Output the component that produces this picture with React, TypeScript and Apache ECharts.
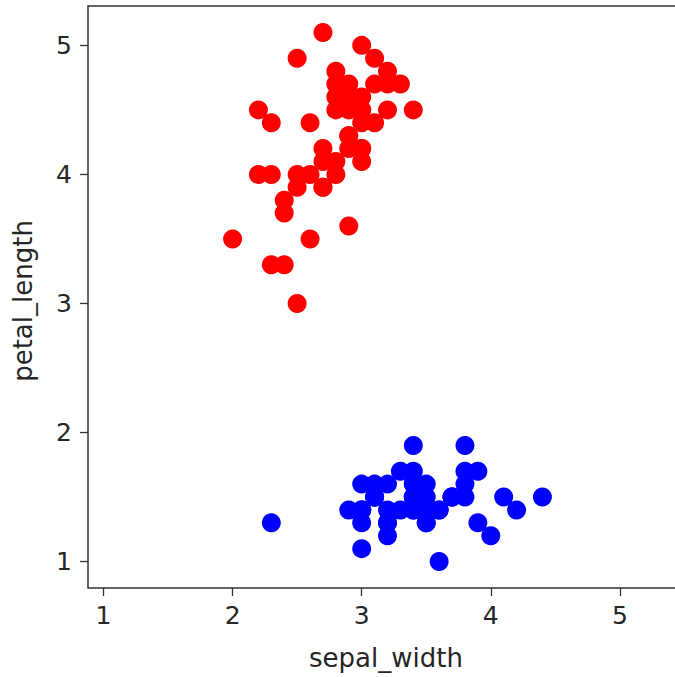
import React, { useEffect, useRef } from "react";
import * as echarts from "echarts";

// iris: setosa (blue) and versicolor (red) — [sepal_width, petal_length]
const setosaSepalWidth = [3.5, 3.0, 3.2, 3.1, 3.6, 3.9, 3.4, 3.4, 2.9, 3.1, 3.7, 3.4, 3.0, 3.0, 4.0, 4.4, 3.9, 3.5, 3.8, 3.8, 3.4, 3.7, 3.6, 3.3, 3.4, 3.0, 3.4, 3.5, 3.4, 3.2, 3.1, 3.4, 4.1, 4.2, 3.1, 3.2, 3.5, 3.6, 3.0, 3.4, 3.5, 2.3, 3.2, 3.5, 3.8, 3.0, 3.8, 3.2, 3.7, 3.3];
const setosaPetalLength = [1.4, 1.4, 1.3, 1.5, 1.4, 1.7, 1.4, 1.5, 1.4, 1.5, 1.5, 1.6, 1.4, 1.1, 1.2, 1.5, 1.3, 1.4, 1.7, 1.5, 1.7, 1.5, 1.0, 1.7, 1.9, 1.6, 1.6, 1.5, 1.4, 1.6, 1.6, 1.5, 1.5, 1.4, 1.5, 1.2, 1.3, 1.4, 1.3, 1.5, 1.3, 1.3, 1.3, 1.6, 1.9, 1.4, 1.6, 1.4, 1.5, 1.4];
const versicolorSepalWidth = [3.2, 3.2, 3.1, 2.3, 2.8, 2.8, 3.3, 2.4, 2.9, 2.7, 2.0, 3.0, 2.2, 2.9, 2.9, 3.1, 3.0, 2.7, 2.2, 2.5, 3.2, 2.8, 2.5, 2.8, 2.9, 3.0, 2.8, 3.0, 2.9, 2.6, 2.4, 2.4, 2.7, 2.7, 3.0, 3.4, 3.1, 2.3, 3.0, 2.5, 2.6, 3.0, 2.6, 2.3, 2.7, 3.0, 2.9, 2.9, 2.5, 2.8];
const versicolorPetalLength = [4.7, 4.5, 4.9, 4.0, 4.6, 4.5, 4.7, 3.3, 4.6, 3.9, 3.5, 4.2, 4.0, 4.7, 3.6, 4.4, 4.5, 4.1, 4.5, 3.9, 4.8, 4.0, 4.9, 4.7, 4.3, 4.4, 4.8, 5.0, 4.5, 3.5, 3.8, 3.7, 3.9, 5.1, 4.5, 4.5, 4.7, 4.4, 4.1, 4.0, 4.4, 4.6, 4.0, 3.3, 4.2, 4.2, 4.2, 4.3, 3.0, 4.1];

const xTicks = [1, 2, 3, 4, 5];
const yTicks = [1, 2, 3, 4, 5];
const xLabel = "sepal_width";
const yLabel = "petal_length";

const FONT = "DejaVu Sans";
const TEXT = "#262626";
const LINE = "#333333";

export default function App() {
  const ref = useRef<HTMLDivElement>(null);
  useEffect(() => {
    if (!ref.current) return;
    const chart = echarts.init(ref.current, undefined, { renderer: "svg" });
    const setosa = setosaSepalWidth.map((x, i) => [x, setosaPetalLength[i]]);
    const versicolor = versicolorSepalWidth.map((x, i) => [x, versicolorPetalLength[i]]);
    chart.setOption({
      animation: false,
      backgroundColor: "#ffffff",
      grid: {
        left: 88,
        top: 6,
        right: 1,
        bottom: 89,
        show: true,
        borderColor: LINE,
        borderWidth: 1.5,
        backgroundColor: "transparent",
      },
      xAxis: {
        type: "value",
        min: 0.88,
        max: 5.52,
        splitLine: { show: false },
        axisLine: { show: false },
        axisTick: { show: true, inside: false, length: 8, lineStyle: { color: LINE, width: 1.3 }, customValues: xTicks },
        axisLabel: {
          show: true,
          color: TEXT,
          fontFamily: FONT,
          fontSize: 25,
          margin: 15,
          customValues: xTicks,
          formatter: (v: number) => String(v),
        },
      },
      yAxis: {
        type: "value",
        min: 0.795,
        max: 5.305,
        splitLine: { show: false },
        axisLine: { show: false },
        axisTick: { show: true, inside: false, length: 8, lineStyle: { color: LINE, width: 1.3 }, customValues: yTicks },
        axisLabel: {
          show: true,
          color: TEXT,
          fontFamily: FONT,
          fontSize: 25,
          margin: 16,
          customValues: yTicks,
          formatter: (v: number) => String(v),
        },
      },
      graphic: [
        {
          type: "text",
          x: 386,
          y: 645,
          style: { text: xLabel, fill: TEXT, font: `26px '${FONT}'`, align: "center", verticalAlign: "top" },
        },
        {
          type: "text",
          x: 23,
          y: 301,
          rotation: Math.PI / 2,
          style: { text: yLabel, fill: TEXT, font: `26px '${FONT}'`, align: "center", verticalAlign: "middle" },
        },
      ],
      series: [
        {
          type: "scatter",
          data: setosa,
          symbol: "circle",
          symbolSize: 19,
          itemStyle: { color: "#0000ff", opacity: 1 },
        },
        {
          type: "scatter",
          data: versicolor,
          symbol: "circle",
          symbolSize: 19,
          itemStyle: { color: "#ff0000", opacity: 1 },
        },
      ],
    });
    return () => chart.dispose();
  }, []);
  return (
    <div style={{ position: "absolute", left: 0, top: 0, width: 675, height: 677, overflow: "hidden" }}>
      <div ref={ref} style={{ width: 688, height: 677 }} />
    </div>
  );
}
